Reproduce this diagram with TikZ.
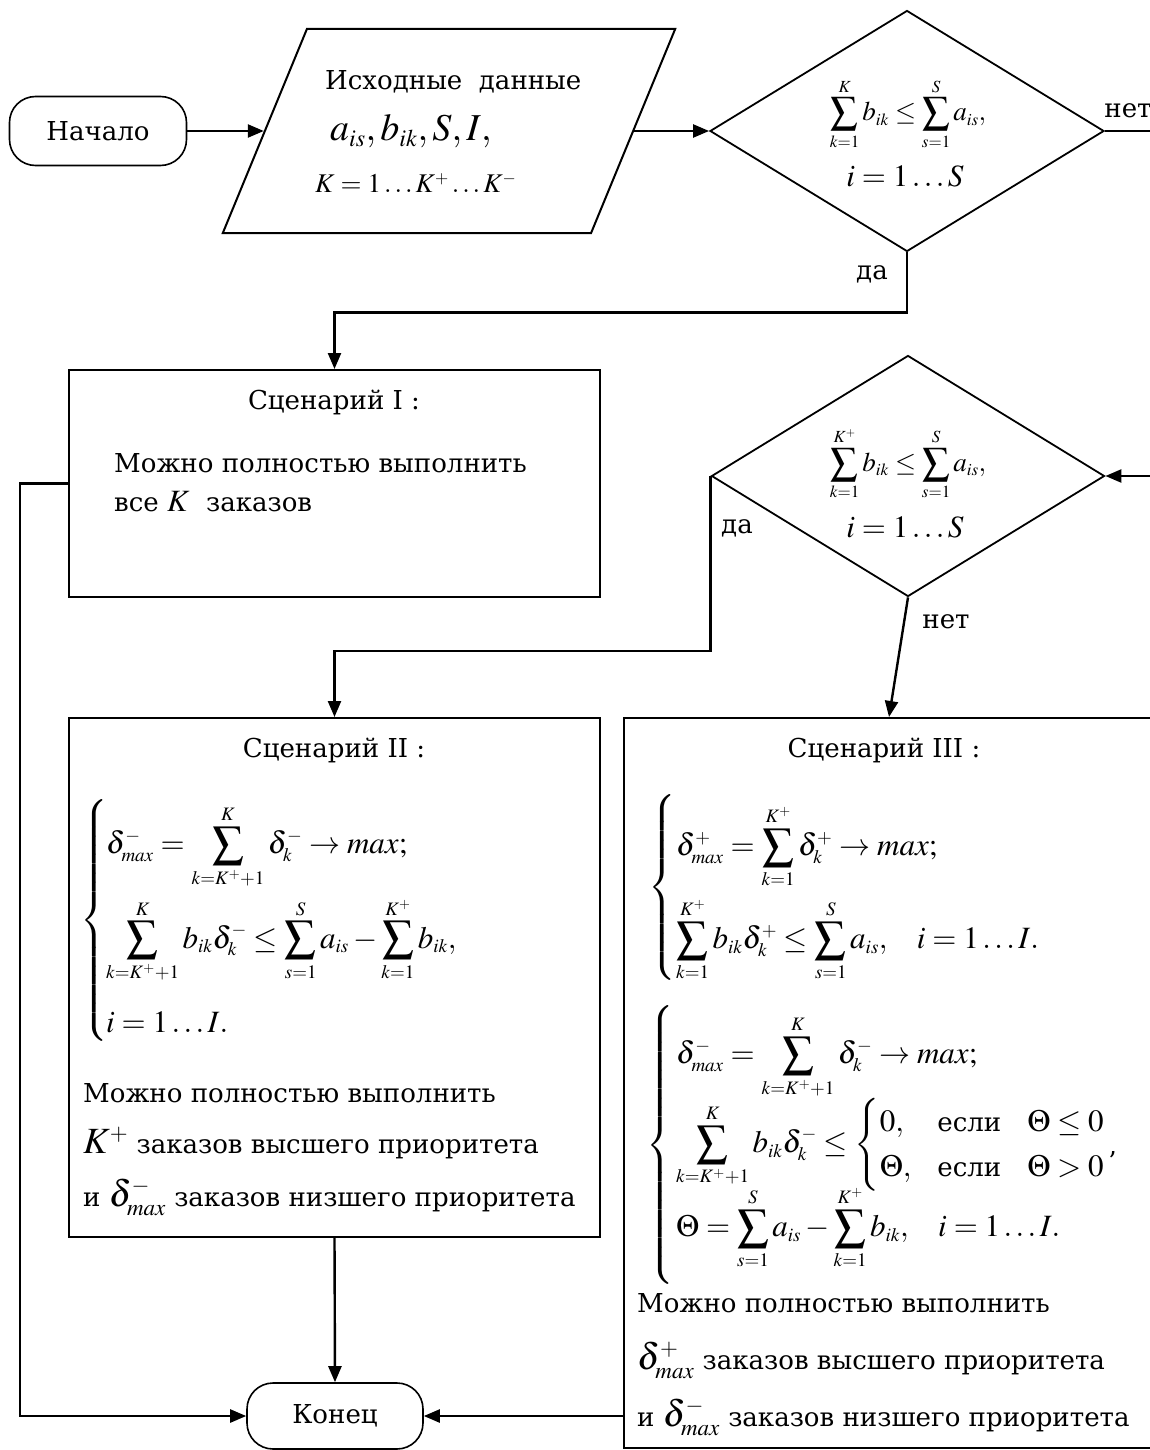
\documentclass[tikz,border=0pt]{standalone}
\usepackage{amsmath}
\usepackage{mathptmx}
\usepackage[no-math]{fontspec}
\setmainfont{DejaVu Serif}[Scale=0.84]
\newfontfamily\serifru{DejaVu Serif}[Scale=0.84]
\usetikzlibrary{shapes.geometric,arrows.meta}

\DeclareMathSizes{31}{31}{19}{14}
\DeclareMathSizes{27}{27}{17}{12}
\DeclareMathSizes{37}{37}{23}{17}
\DeclareMathSizes{38}{38}{24}{17}
\newcommand{\bigmath}[1]{\mbox{\fontsize{37}{40}\selectfont$#1$}}

\tikzset{
  blk/.style={draw, line width=2pt, inner sep=0pt},
  term/.style={blk, rectangle, rounded corners=26pt, line width=1.6pt, font=\serifru\fontsize{31}{37}\selectfont},
  cond/.style={blk, diamond, line width=1.8pt, inner sep=4pt},
  txt/.style={inner sep=0pt, font=\serifru\fontsize{31}{37}\selectfont},
  form/.style={inner sep=0pt, font=\serifru\fontsize{27}{32}\selectfont},
  big/.style={inner sep=0pt, font=\serifru\fontsize{38}{44}\selectfont},
  small/.style={inner sep=0pt, font=\serifru\fontsize{27}{32}\selectfont},
  line/.style={line width=2.4pt},
  arr/.style={line, -{Triangle[length=16pt,width=13pt]}},
}

\begin{document}
\begin{tikzpicture}[x=1pt, y=-1pt]
  \useasboundingbox (0,0) rectangle (1150,1450);
  \fill[white] (0,0) rectangle (1150,1450);
  \clip (0,0) rectangle (1150,1450);

  % start and input data
  \node[term, minimum width=177pt, minimum height=69pt] (start) at (98,131) {Начало};
  \node[blk, trapezium, trapezium left angle=73.6, trapezium right angle=106.4, inner sep=10pt,
        trapezium stretches=true, minimum width=454pt, minimum height=204pt] (input) at (449,131) {\phantom{X}};
  \node[txt, anchor=west]   (inA) at (325,82)  {Исходные\ \ данные};
  \node[big, anchor=west]   (inB) at (330,131) {$a_{is},b_{ik},S,I,$};
  \node[small, anchor=west] (inC) at (315,183) {$K=1\ldots K^{+}\ldots K^{-}$};

  % first check
  \node[cond, minimum width=394pt, minimum height=241pt] (dec1) at (907,131) {};
  \node[form] (dec1a) at (908,114) {$\displaystyle\sum_{k=1}^{K} b_{ik} \le \sum_{s=1}^{S} a_{is},$};
  \node[txt] (dec1b) at (905,176) {$i=1\ldots S$};
  \node[txt] (no1)  at (1128,111) {нет};
  \node[txt] (yes1) at (872,274)  {да};

  % scenario I
  \node[blk, minimum width=531pt, minimum height=227pt] (sc1) at (334.5,483.5) {};
  \node[txt] (sc1t) at (334,402) {Сценарий I :};
  \node[txt, anchor=west] (sc1a) at (114,463) {Можно полностью выполнить};
  \node[txt, anchor=west] (sc1b) at (114,502) {все $K$\ \ заказов};

  % second check
  \node[cond, minimum width=393pt, minimum height=241pt] (dec2) at (908,476) {};
  \node[form] (dec2a) at (908,464) {$\displaystyle\sum_{k=1}^{K^{+}} b_{ik} \le \sum_{s=1}^{S} a_{is},$};
  \node[txt] (dec2b) at (905,527) {$i=1\ldots S$};
  \node[txt] (yes2) at (737,528) {да};
  \node[txt] (no2)  at (946,622) {нет};

  % scenario II
  \node[blk, minimum width=531pt, minimum height=519pt] (sc2) at (334.5,977.5) {};
  \node[txt] (sc2t) at (334,750) {Сценарий II :};
  \node[txt, anchor=west] (br2) at (80,920) {$\left\{\vcenter{\hbox{\rule{0pt}{246pt}}}\right.$};
  \node[txt, anchor=west] (sc2l1) at (106,847)  {$\displaystyle\delta^{-}_{max} = \sum_{k=K^{+}+1}^{K} \delta^{-}_{k} \to max;$};
  \node[txt, anchor=west] (sc2l2) at (106,940)  {$\displaystyle\sum_{k=K^{+}+1}^{K} b_{ik}\delta^{-}_{k} \le \sum_{s=1}^{S} a_{is} - \sum_{k=1}^{K^{+}} b_{ik},$};
  \node[txt, anchor=west] (sc2l3) at (106,1022) {$i=1\ldots I.$};
  \node[txt, anchor=west] (sc2a) at (83,1093) {Можно полностью выполнить};
  \node[txt, anchor=west] (sc2b) at (83,1143) {\bigmath{K^{+}} заказов высшего приоритета};
  \node[txt, anchor=west] (sc2c) at (83,1197) {и \bigmath{\delta^{-}_{max}} заказов низшего приоритета};

  % scenario III
  \node[blk, minimum width=530pt, minimum height=730pt] (sc3) at (889,1083) {};
  \node[txt] (sc3t) at (884,750) {Сценарий III :};
  \node[txt, anchor=west] (br3a) at (648,887) {$\left\{\vcenter{\hbox{\rule{0pt}{180pt}}}\right.$};
  \node[txt, anchor=west] (sc3l1) at (676,847) {$\displaystyle\delta^{+}_{max} = \sum_{k=1}^{K^{+}} \delta^{+}_{k} \to max;$};
  \node[txt, anchor=west] (sc3l2) at (676,940) {$\displaystyle\sum_{k=1}^{K^{+}} b_{ik}\delta^{+}_{k} \le \sum_{s=1}^{S} a_{is},\quad i=1\ldots I.$};
  \node[txt, anchor=west] (br3b) at (646,1145) {$\left\{\vcenter{\hbox{\rule{0pt}{266pt}}}\right.$};
  \node[txt, anchor=west] (sc3l3) at (676,1057) {$\displaystyle\delta^{-}_{max} = \sum_{k=K^{+}+1}^{K} \delta^{-}_{k} \to max;$};
  \node[txt, anchor=west] (sc3l4) at (676,1145) {$\displaystyle\sum_{k=K^{+}+1}^{K} b_{ik}\delta^{-}_{k} \le
        \begin{cases}0, & \text{если}\quad \Theta\le 0\\ \Theta, & \text{если}\quad \Theta>0\end{cases}\text{\raisebox{-18pt}{’}}$};
  \node[txt, anchor=west] (sc3l5) at (676,1228) {$\displaystyle\Theta = \sum_{s=1}^{S} a_{is} - \sum_{k=1}^{K^{+}} b_{ik},\quad i=1\ldots I.$};
  \node[txt, anchor=west] (sc3a) at (637,1303) {Можно полностью выполнить};
  \node[txt, anchor=west] (sc3b) at (637,1360) {\bigmath{\delta^{+}_{max}} заказов высшего приоритета};
  \node[txt, anchor=west] (sc3c) at (637,1417) {и \bigmath{\delta^{-}_{max}} заказов низшего приоритета};

  % end
  \node[term, minimum width=176pt, minimum height=66pt] (end) at (335,1416) {Конец};

  % connectors
  \draw[arr] (start) -- (input);
  \draw[arr] (input) -- (dec1);
  \draw[arr] (dec1.east) -- ++(70,0) |- (dec2.east);
  \draw[arr] (dec1.south) -- ++(0,60) -| (sc1.north);
  \draw[arr] (dec2.west) -- ++(0,175) -| (sc2.north);
  \draw[arr] (dec2.south) -- (sc3.north);
  \draw[arr] (sc1.west) -- ++(-48,0) |- (end.west);
  \draw[arr] (sc2.south) -- (end.north);
  \draw[arr] (sc3.west |- end.east) -- (end.east);
\end{tikzpicture}
\end{document}
